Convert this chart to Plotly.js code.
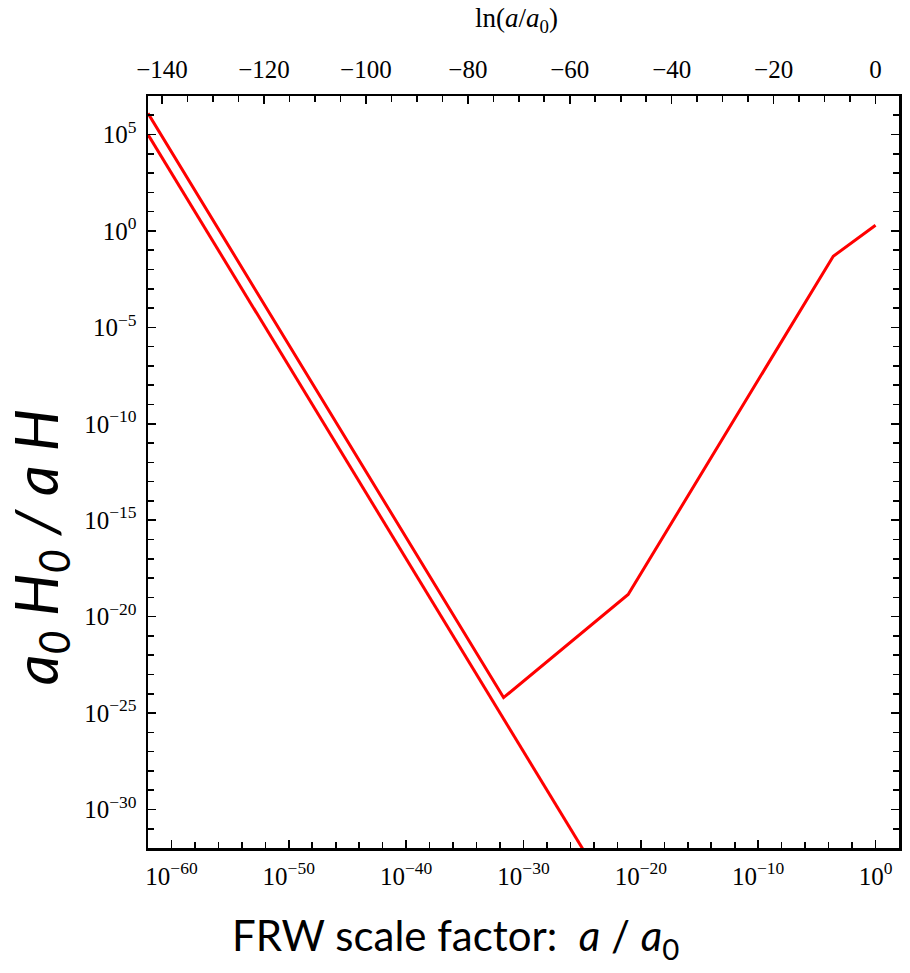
<!DOCTYPE html>
<html>
<head>
<meta charset="utf-8">
<script src="https://cdn.plot.ly/plotly-3.0.1.min.js"></script>
<style>html,body{margin:0;padding:0;background:#fff;}#chart{width:910px;height:973px;}</style>
</head>
<body>
<div id="chart"></div>
<script>
// ---- data ----
// upper curve: inflation -> reheating -> radiation -> matter
const upperA = [1e-62, 2.0e-32, 8.3e-22, 2.5e-4, 1.0];
const upperY = [1.26e6, 6.3e-25, 1.41e-19, 0.049, 2.0];
// lower curve: continuation of inflation
const lowerA = [1e-62, 1e-24];
const lowerY = [1e5, 1e-33];

// tick labels
const xTickVals = [1e-60, 1e-50, 1e-40, 1e-30, 1e-20, 1e-10, 1];
const xTickText = ['10<sup>−60</sup>', '10<sup>−50</sup>', '10<sup>−40</sup>', '10<sup>−30</sup>', '10<sup>−20</sup>', '10<sup>−10</sup>', '10<sup>0</sup>'];
const yTickVals = [1e5, 1, 1e-5, 1e-10, 1e-15, 1e-20, 1e-25, 1e-30];
const yTickText = ['10<sup>5</sup>', '10<sup>0</sup>', '10<sup>−5</sup>', '10<sup>−10</sup>', '10<sup>−15</sup>', '10<sup>−20</sup>', '10<sup>−25</sup>', '10<sup>−30</sup>'];

const xLogRange = [-62, 2];
const yLogRange = [-32, 7];
const lnRange = xLogRange.map(v => v * Math.LN10);

const red = '#ff0000';
const tickFont = {family: 'Liberation Serif, DejaVu Serif, serif', size: 25, color: '#000'};

const traces = [
  {x: upperA, y: upperY, type: 'scatter', mode: 'lines', line: {color: red, width: 3}, hoverinfo: 'skip', showlegend: false},
  {x: lowerA, y: lowerY, type: 'scatter', mode: 'lines', line: {color: red, width: 3}, hoverinfo: 'skip', showlegend: false},
  // carrier for the top ln(a/a0) axis
  {x: lnRange, y: [1, 1], xaxis: 'x2', yaxis: 'y', type: 'scatter', mode: 'lines', line: {width: 0, color: 'rgba(0,0,0,0)'}, hoverinfo: 'skip', showlegend: false}
];

const layout = {
  width: 910, height: 973,
  margin: {l: 148, r: 11, t: 96, b: 125},
  paper_bgcolor: '#fff', plot_bgcolor: '#fff',
  showlegend: false,
  xaxis: {
    type: 'log', range: xLogRange,
    tickmode: 'array', tickvals: xTickVals, ticktext: xTickText,
    ticks: 'inside', ticklen: 8, tickwidth: 1.6, tickcolor: '#000',
    minor: {dtick: 2, ticks: 'inside', ticklen: 6, tickwidth: 1.6, tickcolor: '#000', showgrid: false},
    showline: true, linecolor: '#000', linewidth: 2.5, mirror: false,
    showgrid: false, zeroline: false,
    tickfont: tickFont, ticklabelstandoff: 4
  },
  xaxis2: {
    overlaying: 'x', side: 'top', range: lnRange,
    tickmode: 'linear', tick0: 0, dtick: 20,
    ticks: 'inside', ticklen: 8, tickwidth: 1.6, tickcolor: '#000',
    minor: {dtick: 5, tick0: 0, ticks: 'inside', ticklen: 6, tickwidth: 1.6, tickcolor: '#000', showgrid: false},
    showline: true, linecolor: '#000', linewidth: 2.5,
    showgrid: false, zeroline: false,
    tickfont: tickFont, ticklabelstandoff: 6
  },
  yaxis: {
    type: 'log', range: yLogRange,
    tickmode: 'array', tickvals: yTickVals, ticktext: yTickText,
    ticks: 'inside', ticklen: 8, tickwidth: 1.6, tickcolor: '#000',
    minor: {dtick: 1, ticks: 'inside', ticklen: 6, tickwidth: 1.6, tickcolor: '#000', showgrid: false},
    showline: true, linecolor: '#000', linewidth: 2.5, mirror: 'ticks',
    showgrid: false, zeroline: false,
    tickfont: tickFont, ticklabelstandoff: 4
  },
  annotations: [
    {xref: 'paper', yref: 'paper', x: 0.491, y: 1.101, xanchor: 'center', yanchor: 'middle', showarrow: false,
     text: 'ln(<i>a</i>/<i>a</i><sub>0</sub>)', font: {family: 'Liberation Serif, DejaVu Serif, serif', size: 27, color: '#000'}},
    {xref: 'paper', yref: 'paper', x: 0.41, y: -0.12, xanchor: 'center', yanchor: 'middle', showarrow: false,
     text: 'FRW scale factor:  <i>a</i> / <i>a</i><sub>0</sub>', font: {family: 'Lato, Open Sans, sans-serif', size: 42, color: '#000'}},
    {xref: 'paper', yref: 'paper', x: -0.145, y: 0.40, xanchor: 'center', yanchor: 'middle', showarrow: false, textangle: -90,
     text: '<i>a<sub>0</sub> H<sub>0</sub> / a H</i>', font: {family: 'Lato, Open Sans, sans-serif', size: 60, color: '#000'}}
  ]
};

Plotly.newPlot('chart', traces, layout, {staticPlot: true, displayModeBar: false});
</script>
</body>
</html>
